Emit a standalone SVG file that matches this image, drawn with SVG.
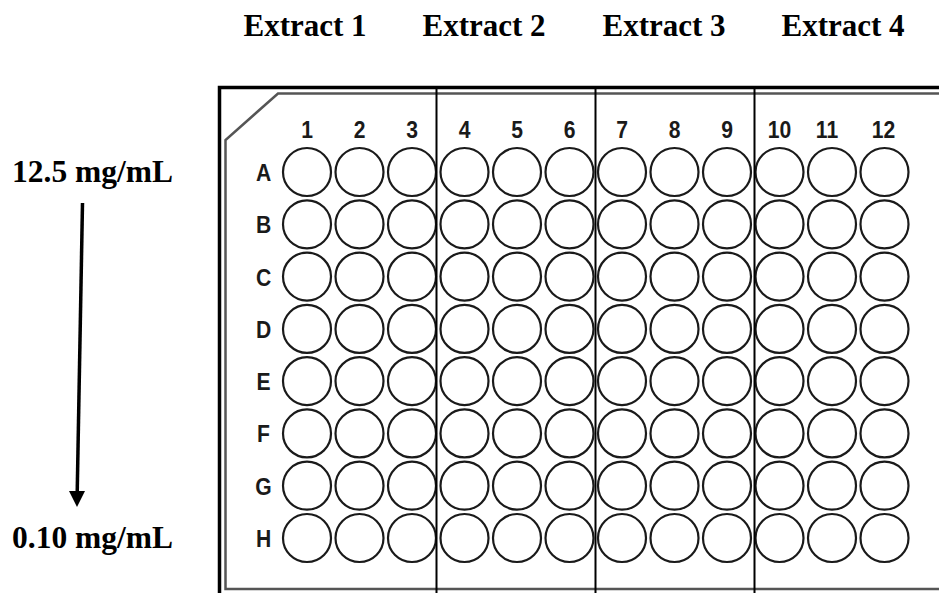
<svg xmlns="http://www.w3.org/2000/svg" width="939" height="593" viewBox="0 0 939 593">
<style>
.hdr{font-family:"Liberation Serif","Times New Roman",serif;font-weight:bold;font-size:31px;fill:#000;text-anchor:middle}
.conc{font-family:"Liberation Serif","Times New Roman",serif;font-weight:bold;font-size:31.5px;fill:#000}
.lbl{font-family:"Liberation Sans",Arial,sans-serif;font-weight:bold;font-size:24px;fill:#1a1a1a;text-anchor:middle}
.well{fill:#fff;stroke:#1a1a1a;stroke-width:2.2}
.div{stroke:#000;stroke-width:2}
</style>
<rect width="939" height="593" fill="#fff"/>
<g id="headers">
<text class="hdr" x="305" y="36">Extract 1</text>
<text class="hdr" x="484" y="36">Extract 2</text>
<text class="hdr" x="664" y="36">Extract 3</text>
<text class="hdr" x="843" y="36">Extract 4</text>
</g>
<g id="concentration">
<text class="conc" x="12" y="182">12.5 mg/mL</text>
<text class="conc" x="12" y="548">0.10 mg/mL</text>
</g>
<g id="connectors">
<line x1="82.5" y1="203" x2="77.2" y2="493" stroke="#000" stroke-width="3.5"/>
<polygon points="69,491 85,491 77,507" fill="#000"/>
</g>
<g id="plate">
<rect x="219.5" y="87.5" width="740" height="520" fill="none" stroke="#000" stroke-width="3.5"/>
<path d="M945 93.5 H278 L225.5 140 V589 H945" fill="none" stroke="#555" stroke-width="2.5"/>
<g id="wells">
<g id="row-A"><circle class="well" cx="307" cy="172" r="24"/><circle class="well" cx="359.5" cy="172" r="24"/><circle class="well" cx="412" cy="172" r="24"/><circle class="well" cx="464.5" cy="172" r="24"/><circle class="well" cx="517" cy="172" r="24"/><circle class="well" cx="569.5" cy="172" r="24"/><circle class="well" cx="622" cy="172" r="24"/><circle class="well" cx="674.5" cy="172" r="24"/><circle class="well" cx="727" cy="172" r="24"/><circle class="well" cx="779.5" cy="172" r="24"/><circle class="well" cx="832" cy="172" r="24"/><circle class="well" cx="884.5" cy="172" r="24"/></g>
<g id="row-B"><circle class="well" cx="307" cy="224.3" r="24"/><circle class="well" cx="359.5" cy="224.3" r="24"/><circle class="well" cx="412" cy="224.3" r="24"/><circle class="well" cx="464.5" cy="224.3" r="24"/><circle class="well" cx="517" cy="224.3" r="24"/><circle class="well" cx="569.5" cy="224.3" r="24"/><circle class="well" cx="622" cy="224.3" r="24"/><circle class="well" cx="674.5" cy="224.3" r="24"/><circle class="well" cx="727" cy="224.3" r="24"/><circle class="well" cx="779.5" cy="224.3" r="24"/><circle class="well" cx="832" cy="224.3" r="24"/><circle class="well" cx="884.5" cy="224.3" r="24"/></g>
<g id="row-C"><circle class="well" cx="307" cy="276.6" r="24"/><circle class="well" cx="359.5" cy="276.6" r="24"/><circle class="well" cx="412" cy="276.6" r="24"/><circle class="well" cx="464.5" cy="276.6" r="24"/><circle class="well" cx="517" cy="276.6" r="24"/><circle class="well" cx="569.5" cy="276.6" r="24"/><circle class="well" cx="622" cy="276.6" r="24"/><circle class="well" cx="674.5" cy="276.6" r="24"/><circle class="well" cx="727" cy="276.6" r="24"/><circle class="well" cx="779.5" cy="276.6" r="24"/><circle class="well" cx="832" cy="276.6" r="24"/><circle class="well" cx="884.5" cy="276.6" r="24"/></g>
<g id="row-D"><circle class="well" cx="307" cy="328.9" r="24"/><circle class="well" cx="359.5" cy="328.9" r="24"/><circle class="well" cx="412" cy="328.9" r="24"/><circle class="well" cx="464.5" cy="328.9" r="24"/><circle class="well" cx="517" cy="328.9" r="24"/><circle class="well" cx="569.5" cy="328.9" r="24"/><circle class="well" cx="622" cy="328.9" r="24"/><circle class="well" cx="674.5" cy="328.9" r="24"/><circle class="well" cx="727" cy="328.9" r="24"/><circle class="well" cx="779.5" cy="328.9" r="24"/><circle class="well" cx="832" cy="328.9" r="24"/><circle class="well" cx="884.5" cy="328.9" r="24"/></g>
<g id="row-E"><circle class="well" cx="307" cy="381.1" r="24"/><circle class="well" cx="359.5" cy="381.1" r="24"/><circle class="well" cx="412" cy="381.1" r="24"/><circle class="well" cx="464.5" cy="381.1" r="24"/><circle class="well" cx="517" cy="381.1" r="24"/><circle class="well" cx="569.5" cy="381.1" r="24"/><circle class="well" cx="622" cy="381.1" r="24"/><circle class="well" cx="674.5" cy="381.1" r="24"/><circle class="well" cx="727" cy="381.1" r="24"/><circle class="well" cx="779.5" cy="381.1" r="24"/><circle class="well" cx="832" cy="381.1" r="24"/><circle class="well" cx="884.5" cy="381.1" r="24"/></g>
<g id="row-F"><circle class="well" cx="307" cy="433.4" r="24"/><circle class="well" cx="359.5" cy="433.4" r="24"/><circle class="well" cx="412" cy="433.4" r="24"/><circle class="well" cx="464.5" cy="433.4" r="24"/><circle class="well" cx="517" cy="433.4" r="24"/><circle class="well" cx="569.5" cy="433.4" r="24"/><circle class="well" cx="622" cy="433.4" r="24"/><circle class="well" cx="674.5" cy="433.4" r="24"/><circle class="well" cx="727" cy="433.4" r="24"/><circle class="well" cx="779.5" cy="433.4" r="24"/><circle class="well" cx="832" cy="433.4" r="24"/><circle class="well" cx="884.5" cy="433.4" r="24"/></g>
<g id="row-G"><circle class="well" cx="307" cy="485.7" r="24"/><circle class="well" cx="359.5" cy="485.7" r="24"/><circle class="well" cx="412" cy="485.7" r="24"/><circle class="well" cx="464.5" cy="485.7" r="24"/><circle class="well" cx="517" cy="485.7" r="24"/><circle class="well" cx="569.5" cy="485.7" r="24"/><circle class="well" cx="622" cy="485.7" r="24"/><circle class="well" cx="674.5" cy="485.7" r="24"/><circle class="well" cx="727" cy="485.7" r="24"/><circle class="well" cx="779.5" cy="485.7" r="24"/><circle class="well" cx="832" cy="485.7" r="24"/><circle class="well" cx="884.5" cy="485.7" r="24"/></g>
<g id="row-H"><circle class="well" cx="307" cy="538" r="24"/><circle class="well" cx="359.5" cy="538" r="24"/><circle class="well" cx="412" cy="538" r="24"/><circle class="well" cx="464.5" cy="538" r="24"/><circle class="well" cx="517" cy="538" r="24"/><circle class="well" cx="569.5" cy="538" r="24"/><circle class="well" cx="622" cy="538" r="24"/><circle class="well" cx="674.5" cy="538" r="24"/><circle class="well" cx="727" cy="538" r="24"/><circle class="well" cx="779.5" cy="538" r="24"/><circle class="well" cx="832" cy="538" r="24"/><circle class="well" cx="884.5" cy="538" r="24"/></g>
</g>
<g id="col-labels">
<text class="lbl" transform="translate(307 138) scale(0.88 1)">1</text><text class="lbl" transform="translate(359.5 138) scale(0.88 1)">2</text><text class="lbl" transform="translate(412 138) scale(0.88 1)">3</text><text class="lbl" transform="translate(464.5 138) scale(0.88 1)">4</text><text class="lbl" transform="translate(517 138) scale(0.88 1)">5</text><text class="lbl" transform="translate(569.5 138) scale(0.88 1)">6</text><text class="lbl" transform="translate(622 138) scale(0.88 1)">7</text><text class="lbl" transform="translate(674.5 138) scale(0.88 1)">8</text><text class="lbl" transform="translate(727 138) scale(0.88 1)">9</text><text class="lbl" transform="translate(779.5 138) scale(0.88 1)">10</text><text class="lbl" transform="translate(827 138) scale(0.88 1)">11</text><text class="lbl" transform="translate(883.5 138) scale(0.88 1)">12</text>
</g>
<g id="row-labels">
<text class="lbl" transform="translate(263.5 181) scale(0.88 1)">A</text><text class="lbl" transform="translate(263.5 233.3) scale(0.88 1)">B</text><text class="lbl" transform="translate(263.5 285.6) scale(0.88 1)">C</text><text class="lbl" transform="translate(263.5 337.9) scale(0.88 1)">D</text><text class="lbl" transform="translate(263.5 390.1) scale(0.88 1)">E</text><text class="lbl" transform="translate(263.5 442.4) scale(0.88 1)">F</text><text class="lbl" transform="translate(263.5 494.7) scale(0.88 1)">G</text><text class="lbl" transform="translate(263.5 547) scale(0.88 1)">H</text>
</g>
<g id="dividers">
<line class="div" x1="436.5" y1="86" x2="436.5" y2="593"/>
<line class="div" x1="595.5" y1="86" x2="595.5" y2="593"/>
<line class="div" x1="754.5" y1="86" x2="754.5" y2="593"/>
</g>
</g>
</svg>
